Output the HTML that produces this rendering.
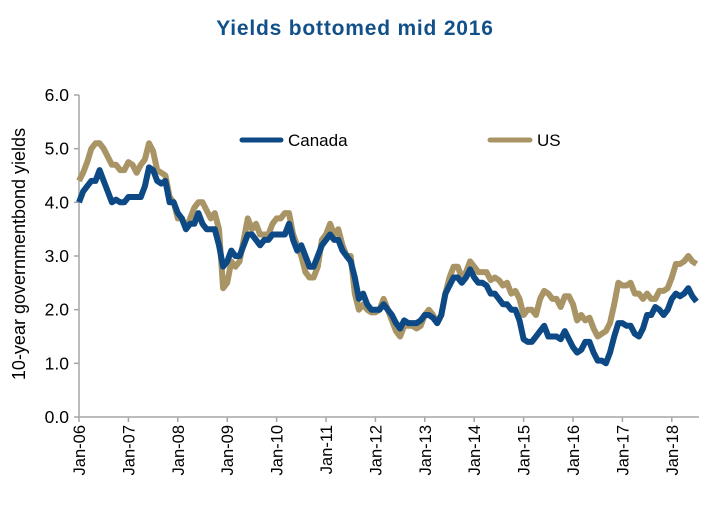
<!DOCTYPE html>
<html><head><meta charset="utf-8"><style>
html,body{margin:0;padding:0;background:#fff;}
svg{display:block;font-family:"Liberation Sans",Arial,sans-serif;}
</style></head><body>
<svg id="chart" width="728" height="506">
<text x="355" y="35" text-anchor="middle" font-size="21" font-weight="bold" fill="#12508a" letter-spacing="0.8">Yields bottomed mid 2016</text>
<text transform="translate(25,254) rotate(-90)" text-anchor="middle" font-size="18" fill="#000">10-year governmentbond yields</text>
<g>
<line x1="242" y1="140" x2="281" y2="140" stroke="#0d4a85" stroke-width="5" stroke-linecap="round"/>
<text x="288" y="146" font-size="17">Canada</text>
<line x1="490" y1="140" x2="530" y2="140" stroke="#a99466" stroke-width="5" stroke-linecap="round"/>
<text x="537" y="146" font-size="17">US</text>
</g>
<g id="axes"></g>
<g id="series"></g>
</svg>
<script>
const yTicks=[0,1,2,3,4,5,6];
const xTickLabels=["Jan-06","Jan-07","Jan-08","Jan-09","Jan-10","Jan-11","Jan-12","Jan-13","Jan-14","Jan-15","Jan-16","Jan-17","Jan-18"];
const us=[4.4,4.55,4.75,5.0,5.1,5.1,5.0,4.85,4.7,4.7,4.6,4.6,
4.75,4.7,4.55,4.7,4.8,5.1,4.95,4.6,4.55,4.5,4.1,4.0,
3.7,3.7,3.5,3.7,3.9,4.0,4.0,3.85,3.7,3.8,3.5,2.4,
2.5,2.9,2.8,2.9,3.3,3.7,3.5,3.6,3.4,3.4,3.4,3.6,
3.7,3.7,3.8,3.8,3.4,3.2,3.0,2.7,2.6,2.6,2.8,3.3,
3.4,3.6,3.4,3.5,3.2,3.0,3.0,2.3,2.0,2.1,2.0,1.95,
1.95,2.0,2.2,2.0,1.8,1.6,1.5,1.7,1.7,1.7,1.65,1.7,
1.9,2.0,1.9,1.75,1.9,2.3,2.6,2.8,2.8,2.6,2.7,2.9,
2.8,2.7,2.7,2.7,2.55,2.6,2.55,2.45,2.5,2.3,2.35,2.2,
1.9,2.0,2.0,1.9,2.2,2.35,2.3,2.2,2.2,2.05,2.25,2.25,
2.1,1.8,1.9,1.8,1.85,1.65,1.5,1.55,1.6,1.75,2.1,2.5,
2.45,2.45,2.5,2.3,2.3,2.2,2.3,2.2,2.2,2.35,2.35,2.4,
2.6,2.85,2.85,2.9,3.0,2.9,2.85];
const canada=[4.0,4.2,4.3,4.4,4.4,4.6,4.4,4.2,4.0,4.05,4.0,4.0,
4.1,4.1,4.1,4.1,4.3,4.65,4.6,4.4,4.35,4.4,4.0,4.0,
3.8,3.7,3.5,3.6,3.6,3.8,3.6,3.5,3.5,3.5,3.2,2.8,
2.9,3.1,3.0,3.0,3.2,3.4,3.4,3.3,3.2,3.3,3.3,3.4,
3.4,3.4,3.4,3.6,3.3,3.1,3.2,3.0,2.8,2.8,3.0,3.2,
3.3,3.4,3.3,3.3,3.1,3.0,2.9,2.6,2.2,2.3,2.1,2.0,
2.0,2.0,2.1,2.0,1.9,1.75,1.65,1.8,1.75,1.75,1.75,1.8,
1.9,1.9,1.85,1.75,1.9,2.3,2.45,2.6,2.6,2.5,2.6,2.75,
2.6,2.5,2.5,2.45,2.3,2.3,2.2,2.1,2.1,2.0,2.0,1.8,
1.45,1.4,1.4,1.5,1.6,1.7,1.5,1.5,1.5,1.45,1.6,1.45,
1.3,1.2,1.25,1.4,1.4,1.2,1.05,1.05,1.0,1.2,1.5,1.75,
1.75,1.7,1.7,1.55,1.5,1.65,1.9,1.9,2.05,2.0,1.9,2.0,
2.2,2.3,2.25,2.3,2.4,2.25,2.15];

const NS="http://www.w3.org/2000/svg";
const x0=79,pxPerYear=49.4,xEnd=699,yBase=417,yTop=95;
function xs(m){return x0+m*pxPerYear/12;}
function ys(v){return yBase-(v/6)*(yBase-yTop);}
const axes=document.getElementById('axes');
function mk(tag,attrs,parent){const e=document.createElementNS(NS,tag);for(const k in attrs)e.setAttribute(k,attrs[k]);parent.appendChild(e);return e;}

const yAxis=mk('line',{x1:x0,y1:yTop,x2:x0,y2:yBase,stroke:'#a6a6a6','stroke-width':1.5},axes);


const xAxis=mk('line',{x1:x0,y1:yBase,x2:xEnd,y2:yBase,stroke:'#a6a6a6','stroke-width':1.5},axes);



yTicks.forEach(v=>{
  const y=ys(v);
  const t=mk('line',{x1:x0-5,y1:y,x2:x0,y2:y,stroke:'#a6a6a6','stroke-width':1.5},axes);
  
  
  const l=mk('text',{x:x0-10,y:y+6,'text-anchor':'end','font-size':17.5},axes);
  l.textContent=v.toFixed(1);
  
  
});
xTickLabels.forEach((lab,i)=>{
  const x=xs(i*12);
  const t=mk('line',{x1:x,y1:yBase,x2:x,y2:yBase+5,stroke:'#a6a6a6','stroke-width':1.5},axes);
  
  
  const l=mk('text',{transform:`translate(${x+6},${yBase+8}) rotate(-90)`,'text-anchor':'end','font-size':16.5},axes);
  l.textContent=lab;
  
  
});

const series=document.getElementById('series');
function draw(arr,color,name){
  const d=arr.map((v,i)=>(i?'L':'M')+xs(i).toFixed(1)+','+ys(v).toFixed(1)).join('');
  const p=mk('path',{d:d,fill:'none',stroke:color,'stroke-width':6,'stroke-linejoin':'round'},series);
  
  
}
draw(us,'#a99466','us-line');
draw(canada,'#0d4a85','canada-line');
</script>
</body></html>
